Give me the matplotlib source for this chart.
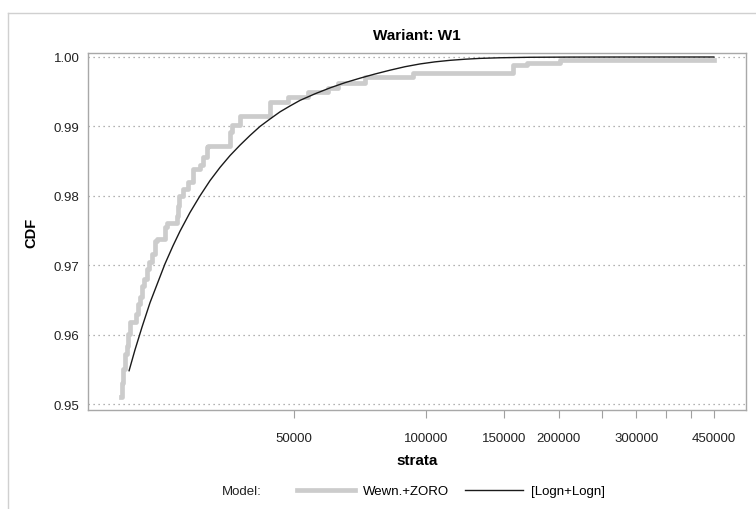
import matplotlib
matplotlib.use("Agg")
import matplotlib.pyplot as plt
from matplotlib.lines import Line2D
from matplotlib.ticker import FixedLocator, NullLocator

# empirical CDF (Wewn.+ZORO), level start points
emp_x = [20220, 20320, 20430, 20650, 20870, 20970, 21200, 21880, 22110, 22340,
         22570, 22810, 23140, 23450, 23750, 24160, 24380, 25460, 25690, 27060,
         27250, 27440, 28020, 28760, 29480, 30580, 31060, 31710, 31880, 35770,
         36150, 37700, 44120, 48480, 53800, 59760, 62950, 72520, 93220, 157300,
         169300, 201200, 450000]
emp_y = [0.9510, 0.9530, 0.9550, 0.9572, 0.9584, 0.9601, 0.9618, 0.9630, 0.9644, 0.9654,
         0.9670, 0.9680, 0.9695, 0.9705, 0.9716, 0.9735, 0.9738, 0.9755, 0.9761, 0.9771,
         0.9785, 0.9800, 0.9810, 0.9820, 0.9838, 0.9845, 0.9856, 0.9870, 0.9872, 0.9892,
         0.9902, 0.9915, 0.9935, 0.9942, 0.9949, 0.9956, 0.9963, 0.9971, 0.9977, 0.9989,
         0.9992, 0.9995, 0.9995]

# fitted model [Logn+Logn]
fit_x = [21090, 21750, 22570, 23530, 24540, 25450, 26540, 27530, 29010, 30570,
         32220, 33950, 35770, 37690, 39720, 41850, 44100, 46470, 48970, 51590,
         55810, 60360, 65280, 70630, 76390, 82620, 89370, 96670, 104560, 113100,
         122300, 132300, 146900, 171950, 212000, 275300, 450000]
fit_y = [0.95480, 0.95780, 0.96110, 0.96460, 0.96760, 0.97020, 0.97280, 0.97490, 0.97760, 0.98000,
         0.98220, 0.98410, 0.98580, 0.98730, 0.98870, 0.99000, 0.99107, 0.99210, 0.99295, 0.99375,
         0.99470, 0.99555, 0.99630, 0.99695, 0.99755, 0.99810, 0.99860, 0.99900, 0.99930, 0.99952,
         0.99968, 0.99980, 0.99989, 0.99996, 0.999988, 0.999997, 0.9999998]

x_ticks = [50000, 100000, 150000, 200000, 250000, 300000, 350000, 400000, 450000]
x_labels = ["50000", "100000", "150000", "200000", "", "300000", "", "", "450000"]
y_ticks = [0.95, 0.96, 0.97, 0.98, 0.99, 1.00]

plt.rcParams["font.family"] = ["Liberation Sans", "DejaVu Sans"]

fig = plt.figure(figsize=(7.56, 5.10), dpi=100)
ax = fig.add_axes([88 / 756, 99 / 510, 658 / 756, 357 / 510])

ax.step(emp_x, emp_y, where="post", color="#cccccc", linewidth=3.4,
        label="Wewn.+ZORO", zorder=2)
ax.plot(fit_x, fit_y, color="#1a1a1a", linewidth=1.0,
        label="[Logn+Logn]", zorder=3)

ax.set_xscale("log")
ax.set_xlim(17010, 532400)
ax.set_ylim(0.94914, 1.000576)
ax.xaxis.set_major_locator(FixedLocator(x_ticks))
ax.xaxis.set_minor_locator(NullLocator())
ax.set_xticklabels(x_labels)
ax.set_yticks(y_ticks)
ax.set_yticklabels(["%.2f" % v for v in y_ticks])

ax.tick_params(axis="x", direction="out", length=6, color="#a0a0a0",
               labelsize=9.5, pad=10, labelcolor="#222222")
ax.tick_params(axis="y", length=0, labelsize=9.5, pad=6, labelcolor="#222222")
for s in ax.spines.values():
    s.set_color("#a8a8a8")
    s.set_linewidth(1.0)

ax.yaxis.grid(True, linestyle=(0, (1, 3)), color="#999999", linewidth=0.9)
ax.set_axisbelow(True)

ax.set_title("Wariant: W1", fontsize=11, fontweight="bold", pad=10)
ax.set_xlabel("strata", fontsize=11, fontweight="bold", labelpad=6)
ax.set_ylabel("CDF", fontsize=10.5, fontweight="bold", labelpad=11)

fig.text(262 / 756, 1 - 492 / 510, "Model:", ha="right", va="center",
         fontsize=9.5, color="#222222")
handles, labels = ax.get_legend_handles_labels()
fig.legend(handles=handles, labels=labels,
           loc="center", bbox_to_anchor=(451 / 756, 1 - 492 / 510), ncol=2,
           frameon=False, fontsize=9.5, handlelength=4.4, columnspacing=1.2,
           handletextpad=0.6)

# outer frame
fig.add_artist(Line2D([8 / 756, 1.0], [1 - 14 / 510, 1 - 14 / 510],
                      transform=fig.transFigure, color="#d0d0d0", linewidth=1))
fig.add_artist(Line2D([8 / 756, 8 / 756], [0, 1 - 14 / 510],
                      transform=fig.transFigure, color="#d0d0d0", linewidth=1))

fig.savefig("out.png", dpi=100)
